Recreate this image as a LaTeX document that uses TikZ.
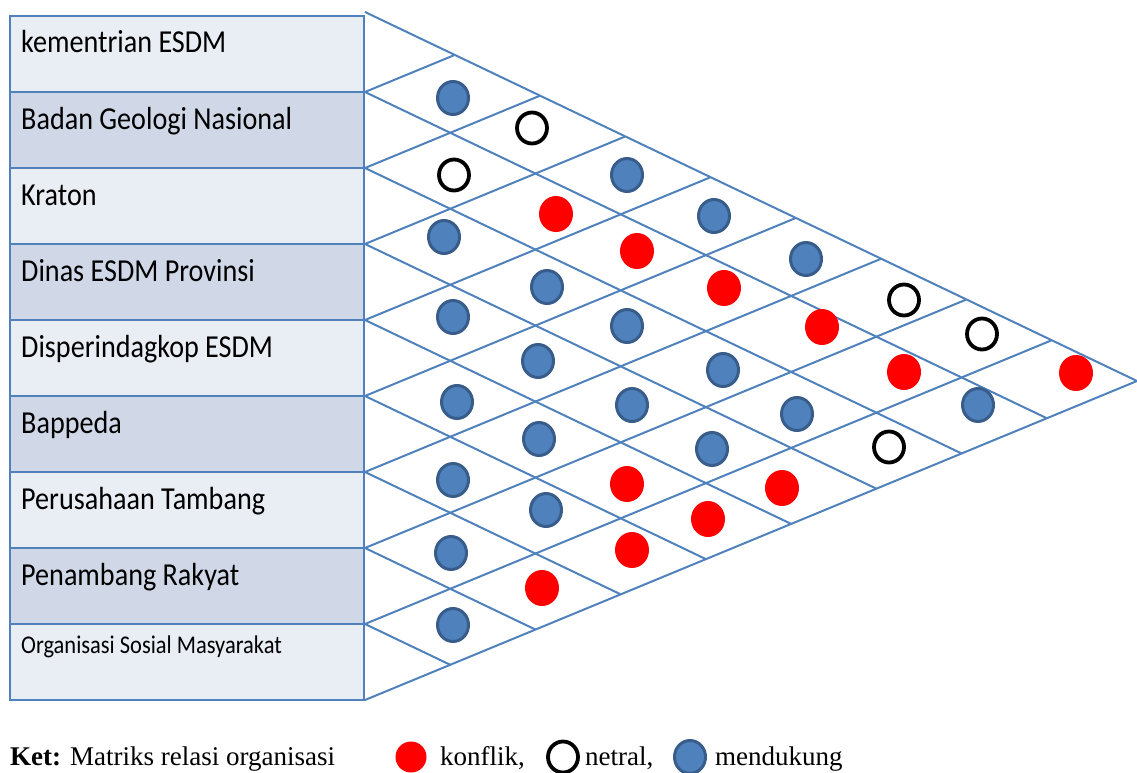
\documentclass[tikz,border=0pt]{standalone}
\usepackage{fontspec}
\setmainfont{Liberation Serif}
\newfontfamily\lblfont[FakeStretch=0.88]{Carlito}
\usetikzlibrary{shapes.geometric}
\definecolor{gridblue}{HTML}{4F81BD}
\definecolor{lightrow}{HTML}{E9EDF4}
\definecolor{darkrow}{HTML}{D0D8E8}
\definecolor{dotfill}{HTML}{4F81BD}
\definecolor{dotedge}{HTML}{385D8A}
\tikzset{
  rowbox/.style={draw=gridblue, line width=2pt, minimum width=354pt, minimum height=76pt, anchor=north west, inner sep=0pt, outer sep=0pt},
  lbl/.style={font=\lblfont\fontsize{32}{36}\selectfont, anchor=base west, inner sep=0pt},
  lblsmall/.style={font=\lblfont\fontsize{25.5}{30}\selectfont, anchor=base west, inner sep=0pt},
  gridline/.style={draw=gridblue, line width=2pt},
  dotsup/.style={ellipse, fill=dotfill, draw=dotedge, line width=3pt, minimum width=31pt, minimum height=33pt, inner sep=0pt},
  dotkon/.style={ellipse, fill=red, minimum width=34pt, minimum height=36pt, inner sep=0pt},
  dotnet/.style={ellipse, fill=white, draw=black, line width=3.8pt, minimum width=30pt, minimum height=31pt, inner sep=0pt},
  legtext/.style={font=\fontsize{27}{30}\selectfont, anchor=base west, inner sep=0pt}
}
\begin{document}
\begin{tikzpicture}[x=1pt, y=-1pt]
\useasboundingbox (0,0) rectangle (1137,773);
\clip (0,0) rectangle (1137,773);
% row boxes
\foreach \i/\f in {0/lightrow,1/darkrow,2/lightrow,3/darkrow,4/lightrow,5/darkrow,6/lightrow,7/darkrow,8/lightrow}{
  \node[rowbox, fill=\f] (r\i) at (10,{16+76*\i}) {};
}
\node[lbl] (t0) at (21,53) {kementrian ESDM};
\node[lbl] (t1) at (21,129) {Badan Geologi Nasional};
\node[lbl] (t2) at (21,205) {Kraton};
\node[lbl] (t3) at (21,281) {Dinas ESDM Provinsi};
\node[lbl] (t4) at (21,357) {Disperindagkop ESDM};
\node[lbl] (t5) at (21,433) {Bappeda};
\node[lbl] (t6) at (21,509) {Perusahaan Tambang};
\node[lbl] (t7) at (21,585) {Penambang Rakyat};
\node[lblsmall] (t8) at (21,653) {Organisasi Sosial Masyarakat};
% triangle grid
\coordinate (T) at (365,12);
\coordinate (A) at (1137,381);
\coordinate (B) at (365,700);
\draw[gridline] (T) -- (A) -- (B);
\foreach \k in {1,...,8}{
  \pgfmathsetmacro\yk{16+76*\k}
  \pgfmathsetmacro\dd{(700-\yk)/0.8917}
  \pgfmathsetmacro\du{(\yk-12)/0.8917}
  \coordinate (L\k) at (365,\yk);
  \coordinate (D\k) at ({365+\dd},{\yk+0.4785*\dd});
  \coordinate (U\k) at ({365+\du},{\yk-0.4132*\du});
  \draw[gridline] (L\k) -- (D\k);
  \draw[gridline] (L\k) -- (U\k);
}
% relation dots
\node[dotsup] (c01) at (453,98) {};
\node[dotnet] (c12) at (454,175) {};
\node[dotsup] (c23) at (444,237) {};
\node[dotsup] (c34) at (453,317) {};
\node[dotsup] (c45) at (457,402) {};
\node[dotsup] (c56) at (453,480) {};
\node[dotsup] (c67) at (451,553) {};
\node[dotsup] (c78) at (453,625) {};
\node[dotnet] (c02) at (532,128) {};
\node[dotkon] (c13) at (556,214) {};
\node[dotsup] (c24) at (547,287) {};
\node[dotsup] (c35) at (538,361) {};
\node[dotsup] (c46) at (539,439) {};
\node[dotsup] (c57) at (546,510) {};
\node[dotkon] (c68) at (542,588) {};
\node[dotsup] (c03) at (627,175) {};
\node[dotkon] (c14) at (637,251) {};
\node[dotsup] (c25) at (627,326) {};
\node[dotsup] (c36) at (632,405) {};
\node[dotkon] (c47) at (627,484) {};
\node[dotkon] (c58) at (632,550) {};
\node[dotsup] (c04) at (714,216) {};
\node[dotkon] (c15) at (724,288) {};
\node[dotsup] (c26) at (723,370) {};
\node[dotsup] (c37) at (712,449) {};
\node[dotkon] (c48) at (708,519) {};
\node[dotsup] (c05) at (806,259) {};
\node[dotkon] (c16) at (822,327) {};
\node[dotsup] (c27) at (797,414) {};
\node[dotkon] (c38) at (782,488) {};
\node[dotnet] (c06) at (904,300) {};
\node[dotkon] (c17) at (904,372) {};
\node[dotnet] (c28) at (889,447) {};
\node[dotnet] (c07) at (982,334) {};
\node[dotsup] (c18) at (978,405) {};
\node[dotkon] (c08) at (1076,373) {};
% legend
\node[legtext] (ket) at (10,765) {\textbf{Ket:} Matriks relasi organisasi};
\node[dotkon, minimum width=31pt, minimum height=31pt] (lk) at (411,757) {};
\node[legtext] (lkt) at (440,765) {konflik,};
\node[dotnet] (ln) at (563,757) {};
\node[legtext] (lnt) at (585,765) {netral,};
\node[dotsup] (ls) at (690,757) {};
\node[legtext] (lst) at (715,765) {mendukung};
\end{tikzpicture}
\end{document}
